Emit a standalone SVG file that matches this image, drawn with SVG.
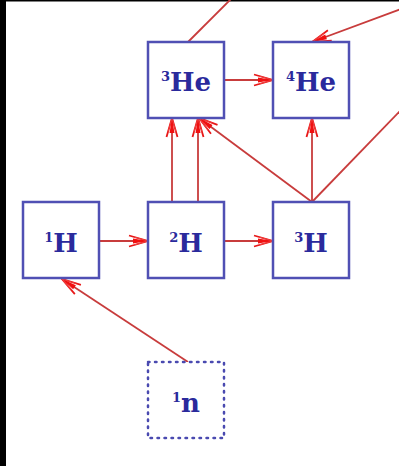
<svg xmlns="http://www.w3.org/2000/svg" width="399" height="466" viewBox="0 0 399 466">
<style>
.box{fill:#ffffff;stroke:#5050b4;stroke-width:2.5}
.dot{fill:#ffffff;stroke:#4a4ab0;stroke-width:2.5;stroke-dasharray:1.5 5.5;stroke-linecap:round}
.lbl{font-family:"DejaVu Serif","Liberation Serif",serif;font-weight:bold;font-size:26px;fill:#2a2a9c;text-anchor:middle}
.sup{font-size:13px}
.edge{stroke:#c83c3c;stroke-width:1.8;fill:none}
</style>
<defs>
<marker id="ah" markerUnits="userSpaceOnUse" markerWidth="24" markerHeight="16" refX="20" refY="7" orient="auto">
<path d="M1,1.5 L20,7 L1,12.5" fill="none" stroke="#e81818" stroke-width="1.8"/>
<path d="M5,4.5 L20,7 L5,9.5 Z" fill="#f01010"/>
<path d="M6,3 L20,7 L6,11" fill="none" stroke="#f04040" stroke-width="1"/>
</marker>
</defs>
<rect x="0" y="0" width="399" height="466" fill="#ffffff"/>
<rect x="0" y="0" width="6" height="466" fill="#000000"/>
<rect x="0" y="0" width="399" height="1.5" fill="#000000"/>
<g id="connectors">
<line class="edge" x1="232" y1="-2" x2="188" y2="42"/>
<line class="edge" x1="401" y1="9" x2="312" y2="42" marker-end="url(#ah)"/>
<line class="edge" x1="224" y1="80" x2="273" y2="80" marker-end="url(#ah)"/>
<line class="edge" x1="172" y1="202" x2="172" y2="118" marker-end="url(#ah)"/>
<line class="edge" x1="198" y1="202" x2="198" y2="118" marker-end="url(#ah)"/>
<line class="edge" x1="312" y1="202" x2="199" y2="118" marker-end="url(#ah)"/>
<line class="edge" x1="312" y1="202" x2="312" y2="118" marker-end="url(#ah)"/>
<line class="edge" x1="312" y1="202" x2="401" y2="110"/>
<line class="edge" x1="99" y1="241" x2="148" y2="241" marker-end="url(#ah)"/>
<line class="edge" x1="224" y1="241" x2="273" y2="241" marker-end="url(#ah)"/>
<line class="edge" x1="188" y1="362" x2="62" y2="279" marker-end="url(#ah)"/>
</g>
<g id="he3">
<rect class="box" x="148" y="42" width="76" height="76"/>
<text class="lbl" x="186" y="91"><tspan class="sup" dy="-10">3</tspan><tspan dy="10">He</tspan></text>
</g>
<g id="he4">
<rect class="box" x="273" y="42" width="76" height="76"/>
<text class="lbl" x="311" y="91"><tspan class="sup" dy="-10">4</tspan><tspan dy="10">He</tspan></text>
</g>
<g id="h1">
<rect class="box" x="23" y="202" width="76" height="76"/>
<text class="lbl" x="61" y="252"><tspan class="sup" dy="-10">1</tspan><tspan dy="10">H</tspan></text>
</g>
<g id="h2">
<rect class="box" x="148" y="202" width="76" height="76"/>
<text class="lbl" x="186" y="252"><tspan class="sup" dy="-10">2</tspan><tspan dy="10">H</tspan></text>
</g>
<g id="h3">
<rect class="box" x="273" y="202" width="76" height="76"/>
<text class="lbl" x="311" y="252"><tspan class="sup" dy="-10">3</tspan><tspan dy="10">H</tspan></text>
</g>
<g id="n1">
<rect class="dot" x="148" y="362" width="76" height="76"/>
<text class="lbl" x="186" y="412"><tspan class="sup" dy="-10">1</tspan><tspan dy="10">n</tspan></text>
</g>
</svg>
